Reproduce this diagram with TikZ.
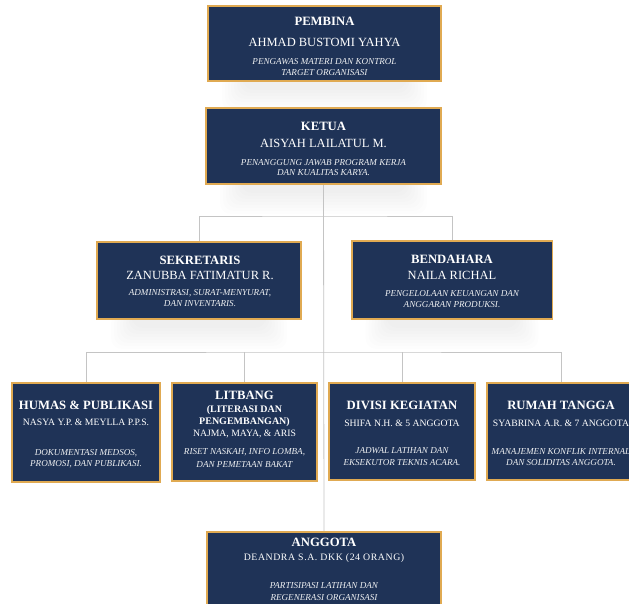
\documentclass[tikz,border=0pt]{standalone}
\usepackage{fontspec}
\setmainfont{Liberation Serif}
\definecolor{navy}{HTML}{1F3357}
\definecolor{gold}{HTML}{E0AA52}
\definecolor{linegray}{HTML}{C4C4C4}
\tikzset{
  orgbox/.style={draw=gold, line width=1.6pt, fill=navy, inner sep=0pt},
  boxtop/.style={draw=gold, line width=1.6pt, fill=navy},
  ttl/.style={text=white, anchor=base, font=\bfseries\fontsize{12.7}{13}\selectfont, inner sep=0pt},
  sub/.style={text=white, anchor=base, font=\bfseries\fontsize{10}{11}\selectfont, inner sep=0pt},
  nm/.style={text=white, anchor=base, font=\fontsize{12.5}{13}\selectfont, inner sep=0pt},
  nms/.style={text=white, anchor=base, font=\fontsize{9.7}{11}\selectfont, inner sep=0pt},
  nmw/.style={text=white, anchor=base, font=\addfontfeatures{LetterSpace=6}\fontsize{9.8}{11}\selectfont, inner sep=0pt},
  dsc/.style={text=white!92!navy, anchor=base, font=\itshape\fontsize{9.1}{10}\selectfont, inner sep=0pt},
  conn/.style={draw=linegray, line width=0.8pt},
  haze/.style={fill=black, opacity=0.007, rounded corners=10pt}
}
\newcommand\softshadow[1]{%
  \foreach \i in {0,...,7}{%
    \fill[haze] ([xshift={14pt+3pt*\i}, yshift=6pt]#1.south west) rectangle ([xshift={-14pt-3pt*\i}, yshift={-30pt+3pt*\i}]#1.south east);
  }%
}
\begin{document}
\begin{tikzpicture}[x=1pt,y=-1pt]
\useasboundingbox (0,0) rectangle (629,603);
\fill[white] (0,0) rectangle (629,603);

% boxes
\node[orgbox, minimum width=231, minimum height=73] (pembina) at (324.5,43.5) {};
\node[orgbox, minimum width=233, minimum height=74] (ketua) at (323.5,146) {};
\node[orgbox, minimum width=202, minimum height=75] (sek) at (199,280.5) {};
\node[orgbox, minimum width=199, minimum height=76] (bend) at (452,280) {};
\node[orgbox, minimum width=148, minimum height=99] (humas) at (86,432.5) {};
\node[orgbox, minimum width=145, minimum height=98] (litbang) at (244.5,432) {};
\node[orgbox, minimum width=146, minimum height=97] (divisi) at (402,431.5) {};
\node[orgbox, minimum width=148, minimum height=97] (rumah) at (561,431.5) {};
\node[orgbox, minimum width=234, minimum height=80] (anggota) at (324,572) {};

% soft shadows
\softshadow{pembina}
\softshadow{ketua}
\softshadow{sek}
\softshadow{bend}

% connectors
\coordinate (bus1) at (323.5,216);
\coordinate (bus2) at (323.5,352);
\draw[conn] (ketua.south) -- (anggota.north);
\draw[conn] (sek.north) |- (bus1) -| (bend.north);
\draw[conn] (humas.north) |- (bus2) -| (rumah.north);
\draw[conn] (litbang.north) -- (litbang.north |- bus2);
\draw[conn] (divisi.north) -- (divisi.north |- bus2);

% boxes again on top of their shadows
\foreach \b in {pembina,ketua,sek,bend}{
  \draw[boxtop] (\b.south west) rectangle (\b.north east);
}

% texts: pembina
\node[ttl] (t1) at (324.5,25.7) {PEMBINA};
\node[nm] (n1) at (324.5,46.6) {AHMAD BUSTOMI YAHYA};
\node[dsc] (d1a) at (324.5,64.5) {PENGAWAS MATERI DAN KONTROL};
\node[dsc] (d1b) at (324.5,75) {TARGET ORGANISASI};
% ketua
\node[ttl] (t2) at (323.5,130.2) {KETUA};
\node[nm] (n2) at (323.5,147.1) {AISYAH LAILATUL M.};
\node[dsc] (d2a) at (323.5,165) {PENANGGUNG JAWAB PROGRAM KERJA};
\node[dsc] (d2b) at (323.5,175.5) {DAN KUALITAS KARYA.};
% sekretaris
\node[ttl] (t3) at (200,264.2) {SEKRETARIS};
\node[nm] (n3) at (200,279.6) {ZANUBBA FATIMATUR R.};
\node[dsc] (d3a) at (200,295.5) {ADMINISTRASI, SURAT-MENYURAT,};
\node[dsc] (d3b) at (200,306) {DAN INVENTARIS.};
% bendahara
\node[ttl] (t4) at (452,263.5) {BENDAHARA};
\node[nm] (n4) at (452,279.6) {NAILA RICHAL};
\node[dsc] (d4a) at (452,296.5) {PENGELOLAAN KEUANGAN DAN};
\node[dsc] (d4b) at (452,307) {ANGGARAN PRODUKSI.};
% humas
\node[ttl] (t5) at (86,409.5) {HUMAS \& PUBLIKASI};
\node[nms] (n5) at (86,425.5) {NASYA Y.P. \& MEYLLA P.P.S.};
\node[dsc] (d5a) at (86,455) {DOKUMENTASI MEDSOS,};
\node[dsc] (d5b) at (86,466) {PROMOSI, DAN PUBLIKASI.};
% litbang
\node[ttl] (t6) at (244.5,399.5) {LITBANG};
\node[sub] (s6a) at (244.5,412.5) {(LITERASI DAN};
\node[sub] (s6b) at (244.5,424) {PENGEMBANGAN)};
\node[nms] (n6) at (244.5,436) {NAJMA, MAYA, \& ARIS};
\node[dsc] (d6a) at (244.5,454) {RISET NASKAH, INFO LOMBA,};
\node[dsc] (d6b) at (244.5,467) {DAN PEMETAAN BAKAT};
% divisi
\node[ttl] (t7) at (402,409.5) {DIVISI KEGIATAN};
\node[nms] (n7) at (402,426.5) {SHIFA N.H. \& 5 ANGGOTA};
\node[dsc] (d7a) at (402,453) {JADWAL LATIHAN DAN};
\node[dsc] (d7b) at (402,465) {EKSEKUTOR TEKNIS ACARA.};
% rumah tangga
\node[ttl] (t8) at (561,409.5) {RUMAH TANGGA};
\node[nms] (n8) at (561,426.5) {SYABRINA A.R. \& 7 ANGGOTA};
\node[dsc] (d8a) at (561,454) {MANAJEMEN KONFLIK INTERNAL};
\node[dsc] (d8b) at (561,465) {DAN SOLIDITAS ANGGOTA.};
% anggota
\node[ttl] (t9) at (324,546.2) {ANGGOTA};
\node[nmw] (n9) at (324,560.5) {DEANDRA S.A. DKK (24 ORANG)};
\node[dsc] (d9a) at (324,588) {PARTISIPASI LATIHAN DAN};
\node[dsc] (d9b) at (324,600) {REGENERASI ORGANISASI};
\end{tikzpicture}
\end{document}
